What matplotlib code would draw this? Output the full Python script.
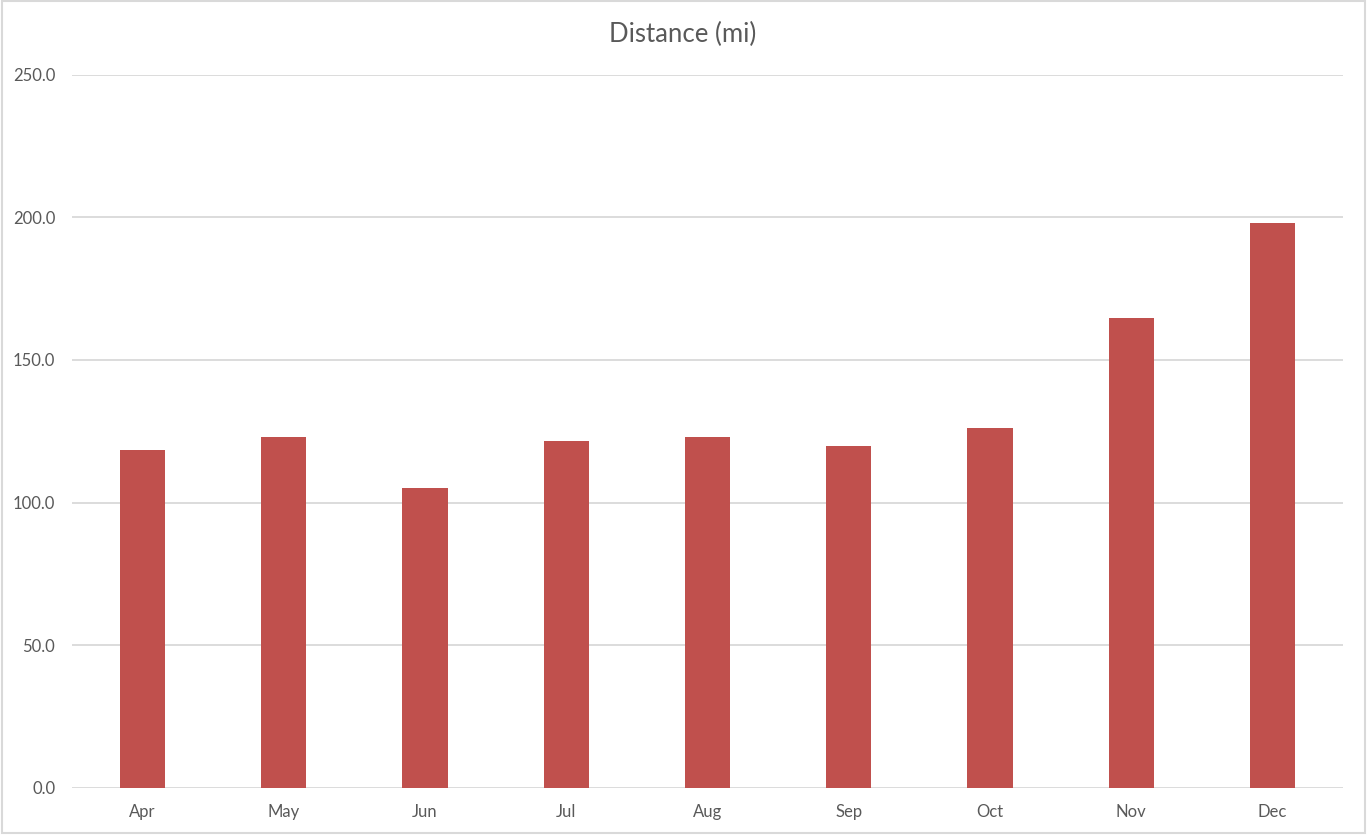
import matplotlib
matplotlib.use("Agg")
import matplotlib.pyplot as plt
from matplotlib.patches import Rectangle

months = ["Apr", "May", "Jun", "Jul", "Aug", "Sep", "Oct", "Nov", "Dec"]
distance = [118.4, 123.1, 105.2, 121.6, 123.1, 119.9, 126.1, 164.8, 198.1]
yticks = [0, 50, 100, 150, 200, 250]

plt.rcParams['font.family'] = ['Lato', 'DejaVu Sans']
text_color = "#595959"
grid_color = "#D9D9D9"

fig = plt.figure(figsize=(13.68, 8.36), dpi=100)
ax = fig.add_axes([72/1368, 1 - 787.7/836, (1343-72)/1368, (787.7-74.7)/836])

x = list(range(len(months)))
ax.bar(x, distance, width=0.32, color="#C0504D", zorder=3)

ax.set_xlim(-0.5, len(months) - 0.5)
ax.set_ylim(0, 250)
ax.set_yticks(yticks)
ax.set_yticklabels([f"{v:.1f}" for v in yticks])
ax.set_xticks(x)
ax.set_xticklabels(months)
ax.yaxis.grid(True, color=grid_color, linewidth=1.3, zorder=0)
ax.set_axisbelow(True)
for s in ax.spines.values():
    s.set_visible(False)
ax.tick_params(axis='y', length=0, pad=12, labelsize=12, labelcolor=text_color)
ax.tick_params(axis='x', length=0, pad=12, labelsize=12, labelcolor=text_color)

fig.text(683/1368, 1 - 34/836, "Distance (mi)", ha="center", va="center",
         fontsize=18.5, color=text_color)

fig.patches.append(Rectangle((2/1368, 1 - 833/836), 1363/1368, 832/836,
                             transform=fig.transFigure, fill=False,
                             edgecolor="#D9D9D9", linewidth=1.5))

fig.savefig("out.png", dpi=100)
